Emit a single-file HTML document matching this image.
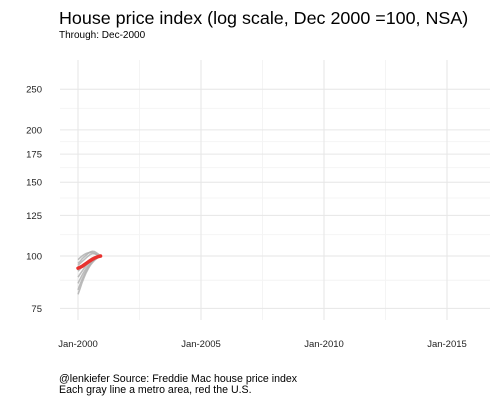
<!DOCTYPE html>
<html><head><meta charset="utf-8"><style>
body{margin:0;background:#fff;font-family:"Liberation Sans",sans-serif}
svg text{font-family:"Liberation Sans",sans-serif}
</style></head><body>
<svg width="500" height="400" xmlns="http://www.w3.org/2000/svg">
<rect width="500" height="400" fill="#fff"/>
<text x="59" y="24" font-size="17.9" fill="#000">House price index (log scale, Dec 2000 =100, NSA)</text>
<text x="59" y="38" font-size="10" fill="#000">Through: Dec-2000</text>
<g id="grid"></g>
<g id="series"></g>
<g id="axes"></g>
<text x="59" y="382" font-size="10.6" fill="#000">@lenkiefer Source: Freddie Mac house price index</text>
<text x="59" y="393" font-size="10.6" fill="#000">Each gray line a metro area, red the U.S.</text>
</svg>
<script>
const yTicks=[75,100,125,150,175,200,250];
const yMinor=[87.5,112.5,137.5,162.5,187.5,225];
const xTickYears=[2000,2005,2010,2015];
const xTickLabels=["Jan-2000","Jan-2005","Jan-2010","Jan-2015"];
const months=[0,1,2,3,4,5,6,7,8,9,10,11];
const usValues=[93.5,94,94.5,95.3,96,96.8,97.5,98.2,98.8,99.3,99.7,100];
const metro1=[96,97,98.5,99.5,100.5,101.5,102.2,102.6,102.5,101.8,101,100];
const metro2=[95,96,97,98,99,100,100.8,101.3,101.2,100.8,100.4,100];
const metro3=[92,93,94.2,95.3,96.4,97.4,98.2,98.9,99.4,99.7,99.9,100];
const metro4=[89,90.5,92,93.5,94.8,96,97,97.9,98.6,99.2,99.7,100];
const metro5=[86,88,90,91.8,93.4,94.8,96,97.1,98,98.8,99.5,100];
const metro6=[83,85.5,88,90.2,92.2,94,95.5,96.8,97.9,98.8,99.5,100];
const metro7=[81,83.5,86.5,89,91.3,93.3,95,96.4,97.6,98.6,99.4,100];
const metro8=[98,99,100,100.8,101.4,101.8,102,102,101.6,101,100.5,100];
const metros=[metro1,metro2,metro3,metro4,metro5,metro6,metro7,metro8];
const NS="http://www.w3.org/2000/svg";
const L=60,R=490,T=60,B=320;
function yS(v){return 256-182*Math.log(v/100);}
function xS(yr){return 78+(yr-2000)*24.6;}
function mk(tag,attrs,parent){const e=document.createElementNS(NS,tag);for(const k in attrs)e.setAttribute(k,attrs[k]);parent.appendChild(e);return e;}
const grid=document.getElementById('grid'),ser=document.getElementById('series'),ax=document.getElementById('axes');
yMinor.forEach(v=>{const e=mk('line',{x1:L,x2:R,y1:yS(v),y2:yS(v),stroke:'#f4f4f4','stroke-width':1},grid);

});
[2002.5,2007.5,2012.5].forEach(yr=>{const e=mk('line',{x1:xS(yr),x2:xS(yr),y1:T,y2:B,stroke:'#f4f4f4','stroke-width':1},grid);

});
yTicks.forEach(v=>{const e=mk('line',{x1:L,x2:R,y1:yS(v),y2:yS(v),stroke:'#e6e6e6','stroke-width':1},grid);


const t=mk('text',{x:42,y:yS(v)+3.5,'font-size':9.5,'text-anchor':'end',fill:'#222'},ax);t.textContent=v;

});
xTickYears.forEach((yr,i)=>{const e=mk('line',{x1:xS(yr),x2:xS(yr),y1:T,y2:B,stroke:'#e6e6e6','stroke-width':1},grid);


const t=mk('text',{x:xS(yr),y:347,'font-size':9.5,'text-anchor':'middle',fill:'#222'},ax);t.textContent=xTickLabels[i];

});
function pts(arr){return arr.map((v,i)=>xS(2000+months[i]/12).toFixed(1)+','+yS(v).toFixed(1)).join(' ');}
metros.forEach(m=>{const p=mk('polyline',{points:pts(m),fill:'none',stroke:'#b0b0b0','stroke-width':1.6,'stroke-opacity':0.85},ser);

});
const us=mk('polyline',{points:pts(usValues),fill:'none',stroke:'#e8322f','stroke-width':3.5,'stroke-linecap':'round'},ser);


</script>
</body></html>
